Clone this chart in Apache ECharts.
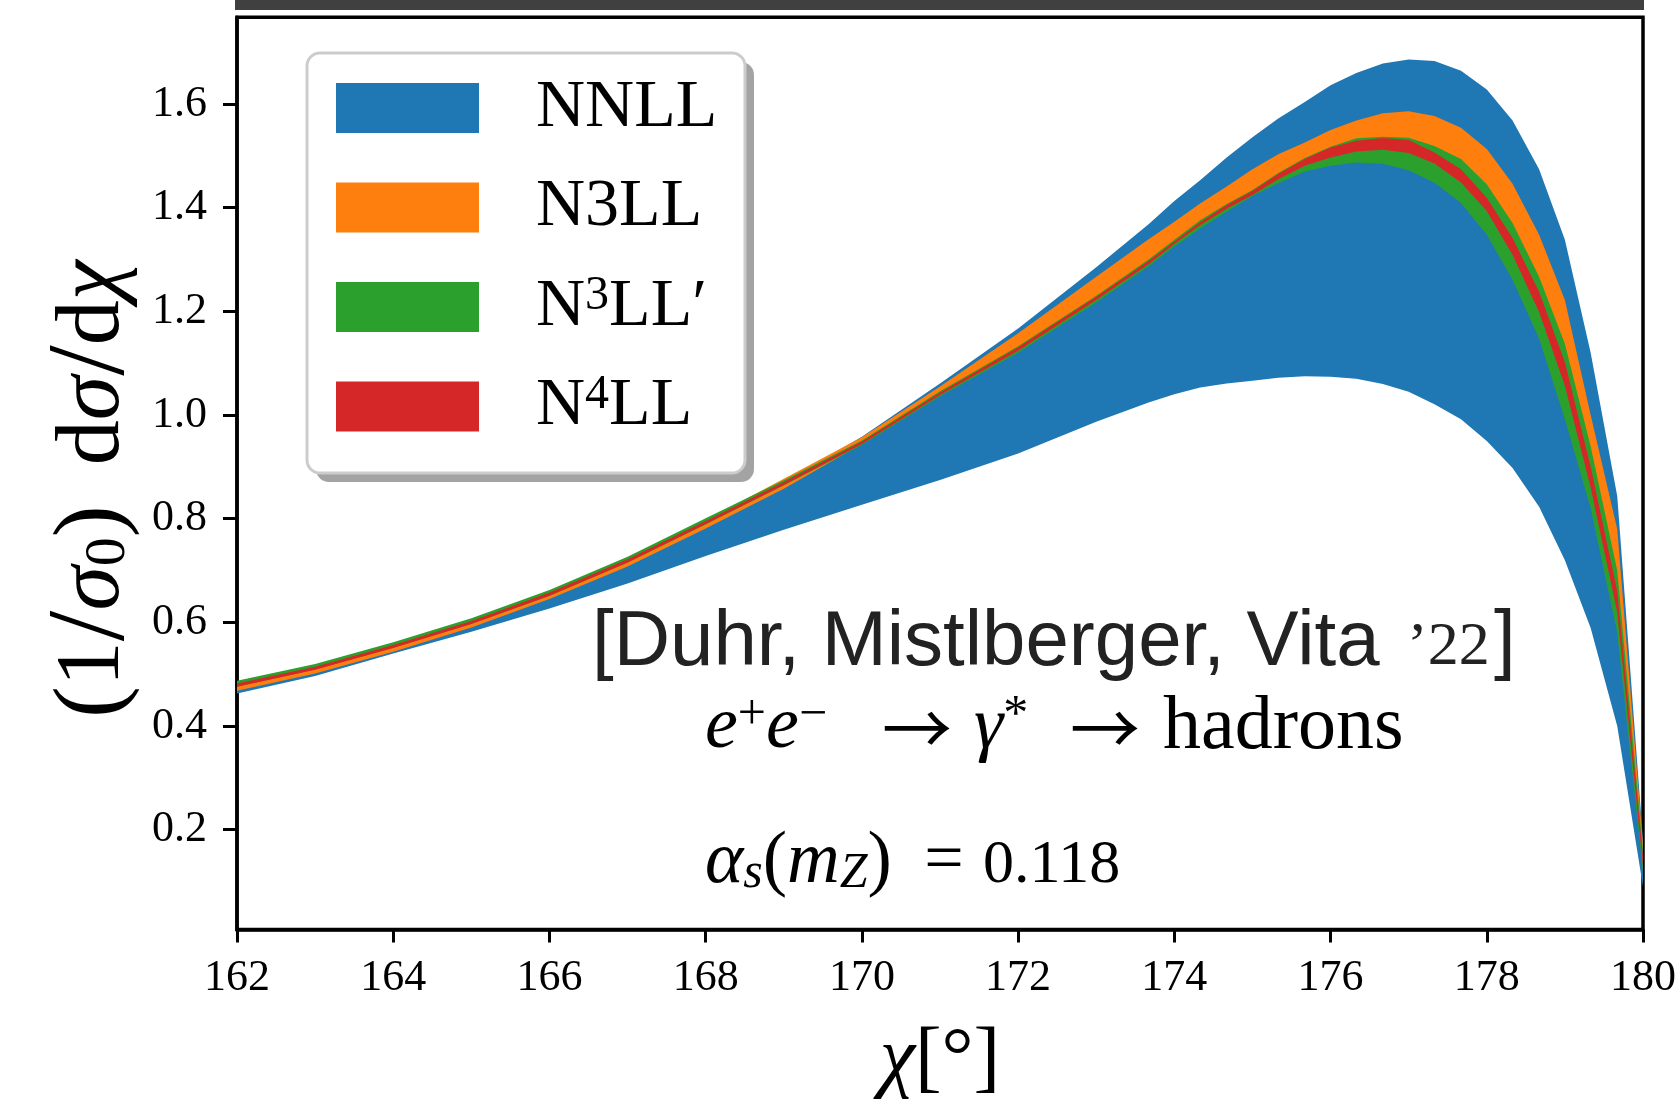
<!DOCTYPE html>
<html>
<head>
<meta charset="utf-8">
<script src="https://cdn.jsdelivr.net/npm/echarts@6/dist/echarts.min.js"></script>
<style>
  html, body { margin: 0; padding: 0; background: #fff; }
  #chart { width: 1676px; height: 1104px; }
</style>
</head>
<body>
<div id="chart"></div>
<script>
// Scattering angle grid (degrees)
const chi = [162, 163, 164, 165, 166, 167, 168, 169, 170, 171, 172, 173, 173.67, 174, 174.33, 174.67,
             175, 175.33, 175.67, 176, 176.33, 176.67, 177, 177.33, 177.67, 178, 178.33, 178.67,
             179, 179.33, 179.67, 180];

// Scale-variation envelopes: lower / upper edge of each band
const nnllLo = [0.463, 0.4965, 0.540, 0.582, 0.627, 0.675, 0.728, 0.7785, 0.827, 0.8746, 0.926, 0.987, 1.024, 1.040, 1.053, 1.061,
                1.066, 1.072, 1.075, 1.074, 1.070, 1.060, 1.045, 1.021, 0.992, 0.950, 0.898, 0.823,
                0.720, 0.589, 0.400, 0.090];
const nnllHi = [0.479, 0.512, 0.554, 0.601, 0.656, 0.720, 0.793, 0.872, 0.958, 1.061, 1.167, 1.285, 1.368, 1.413, 1.453, 1.497,
                1.536, 1.572, 1.604, 1.636, 1.660, 1.678, 1.686, 1.683, 1.664, 1.628, 1.568, 1.474,
                1.338, 1.120, 0.844, 0.180];

const n3llLo = [0.468, 0.5015, 0.5435, 0.590, 0.645, 0.708, 0.781, 0.858, 0.944, 1.038, 1.122, 1.220, 1.292, 1.328, 1.365, 1.395,
                1.425, 1.452, 1.475, 1.490, 1.500, 1.500, 1.490, 1.468, 1.430, 1.372, 1.285, 1.175,
                1.030, 0.880, 0.640, 0.130];
const n3llHi = [0.482, 0.515, 0.557, 0.604, 0.659, 0.723, 0.797, 0.877, 0.957, 1.055, 1.158, 1.267, 1.339, 1.373, 1.408, 1.441,
                1.474, 1.503, 1.526, 1.550, 1.568, 1.582, 1.586, 1.577, 1.554, 1.513, 1.446, 1.348,
                1.222, 1.000, 0.780, 0.170];

const n3llpLo = [0.476, 0.509, 0.551, 0.597, 0.651, 0.715, 0.789, 0.864, 0.942, 1.036, 1.120, 1.217, 1.287, 1.325, 1.360, 1.392,
                 1.4225, 1.447, 1.470, 1.481, 1.487, 1.485, 1.472, 1.448, 1.409, 1.348, 1.261, 1.147,
                 0.992, 0.820, 0.580, 0.120];
const n3llpHi = [0.4875, 0.5196, 0.5615, 0.6078, 0.6624, 0.7267, 0.8007, 0.874, 0.951, 1.0457, 1.1326, 1.2303, 1.300, 1.338, 1.376, 1.407,
                 1.434, 1.467, 1.496, 1.5176, 1.5338, 1.5371, 1.535, 1.519, 1.4937, 1.445, 1.3706, 1.267,
                 1.1376, 0.940, 0.700, 0.160];

const n4llLo = [0.476, 0.5086, 0.5505, 0.5968, 0.6514, 0.7157, 0.7897, 0.865, 0.944, 1.0386, 1.124, 1.222, 1.291, 1.330, 1.366, 1.398,
                1.4244, 1.455, 1.4808, 1.497, 1.5086, 1.5118, 1.5053, 1.4852, 1.4484, 1.3934, 1.309, 1.199,
                1.0567, 0.860, 0.620, 0.130];
const n4llHi = [0.482, 0.5146, 0.5565, 0.6028, 0.6574, 0.7217, 0.7957, 0.871, 0.949, 1.0437, 1.1306, 1.2283, 1.297, 1.335, 1.372, 1.405,
                1.432, 1.465, 1.4937, 1.5163, 1.5292, 1.5344, 1.5305, 1.5066, 1.474, 1.419, 1.3415, 1.2379,
                1.102, 0.900, 0.660, 0.150];

// Tick values
const yTickValues = [0.2, 0.4, 0.6, 0.8, 1.0, 1.2, 1.4, 1.6];
const xTickStep = 2;

// Bands, drawn in this order (later bands on top)
const bands = [
  { name: 'NNLL',  label: '{m|NNLL}',                   lo: nnllLo,  hi: nnllHi,  color: '#1f77b4' },
  { name: 'N3LL',  label: '{m|N3LL}',                   lo: n3llLo,  hi: n3llHi,  color: '#ff7f0e' },
  { name: "N3LL'", label: '{m|N}{sup|3}{m|LL\u2032}',   lo: n3llpLo, hi: n3llpHi, color: '#2ca02c' },
  { name: 'N4LL',  label: '{m|N}{sup|4}{m|LL}',         lo: n4llLo,  hi: n4llHi,  color: '#d62728' }
];

const SERIF = "'Liberation Serif', 'DejaVu Serif', serif";
const SANS = "'Liberation Sans', Arial, sans-serif";
const ARROW = "'Noto Sans CJK SC', 'DejaVu Sans', sans-serif";

// One filled polygon per band: upper edge left-to-right, lower edge back
function bandSeries(b) {
  return {
    type: 'custom',
    name: b.name,
    coordinateSystem: 'cartesian2d',
    data: chi.map((x, i) => [x, b.lo[i], b.hi[i]]),
    encode: { x: 0, y: [1, 2] },
    itemStyle: { color: b.color },
    silent: true,
    clip: true,
    renderItem: function (params, api) {
      if (params.dataIndex !== 0) return null;
      const upper = chi.map((x, i) => api.coord([x, b.hi[i]]));
      const lower = chi.map((x, i) => api.coord([x, b.lo[i]])).reverse();
      return {
        type: 'polygon',
        shape: { points: upper.concat(lower) },
        style: { fill: b.color, stroke: null }
      };
    }
  };
}

const labelMap = {};
bands.forEach(b => { labelMap[b.name] = b.label; });

const txt = (fill, extra) => Object.assign({ fill: fill, color: fill }, extra);

const chart = echarts.init(document.getElementById('chart'), null, { renderer: 'canvas' });

chart.setOption({
  animation: false,
  backgroundColor: '#fff',
  grid: {
    left: 237, right: 33, top: 17.3, bottom: 174.5,
    containLabel: false, outerBoundsMode: 'none',
    show: true, borderColor: '#000', borderWidth: 3.5, backgroundColor: 'transparent'
  },
  xAxis: {
    type: 'value',
    min: 162, max: 180, interval: xTickStep,
    name: '{i|\u03c7}{n|[\u00b0]}',
    nameLocation: 'middle',
    nameGap: 91,
    nameMoveOverlap: false,
    nameTextStyle: {
      rich: {
        i: { fontFamily: SERIF, fontStyle: 'italic', fontSize: 80, lineHeight: 80, color: '#000' },
        n: { fontFamily: SERIF, fontSize: 80, lineHeight: 80, color: '#000' }
      }
    },
    axisLine: { show: true, lineStyle: { color: '#000', width: 3.5 } },
    axisTick: { show: true, length: 13, lineStyle: { color: '#000', width: 3 } },
    axisLabel: { fontFamily: SERIF, fontSize: 44, color: '#000', margin: 27 },
    splitLine: { show: false }
  },
  yAxis: {
    type: 'value',
    min: 0.0075, max: 1.7673,
    name: '{p|(}{n|1}{sl|/}{i|\u03c3}{s|0}{p|)}{sp| }{n|d}{i|\u03c3}{sl|/}{n|d}{i|\u03c7}',
    nameLocation: 'middle',
    nameRotate: 90,
    nameGap: 99,
    nameMoveOverlap: false,
    nameTextStyle: {
      padding: [0, 32, 0, 0],
      rich: {
        p: { fontFamily: SERIF, fontSize: 96, lineHeight: 88, color: '#000' },
        n: { fontFamily: SERIF, fontSize: 90, lineHeight: 88, color: '#000' },
        sl: { fontFamily: SERIF, fontSize: 110, lineHeight: 88, color: '#000' },
        sp: { fontFamily: SERIF, fontSize: 90, lineHeight: 88, width: 40, color: '#000' },
        i: { fontFamily: SERIF, fontStyle: 'italic', fontSize: 90, lineHeight: 88, color: '#000' },
        s: { fontFamily: SERIF, fontSize: 58, lineHeight: 44, verticalAlign: 'bottom', color: '#000' }
      }
    },
    axisLine: { show: true, lineStyle: { color: '#000', width: 3.5 } },
    axisTick: { show: true, length: 14, lineStyle: { color: '#000', width: 3 }, customValues: yTickValues },
    axisLabel: {
      fontFamily: SERIF, fontSize: 44, color: '#000', margin: 30,
      customValues: yTickValues,
      formatter: v => v.toFixed(1)
    },
    splitLine: { show: false }
  },
  legend: {
    data: bands.map(b => ({ name: b.name, icon: 'rect', itemStyle: { color: b.color } })),
    orient: 'vertical',
    left: 336, top: 73,
    padding: 0,
    itemWidth: 143, itemHeight: 50, itemGap: 29.5,
    selectedMode: false,
    z: 6,
    formatter: name => labelMap[name],
    textStyle: {
      fontFamily: SERIF, fontSize: 68, lineHeight: 70, color: '#000',
      padding: [0, 0, 0, 52],
      rich: {
        m: { fontFamily: SERIF, fontSize: 68, lineHeight: 70, color: '#000' },
        sup: { fontFamily: SERIF, fontSize: 48, lineHeight: 32, verticalAlign: 'top', color: '#000' }
      }
    }
  },
  graphic: [
    // dark strip along the top edge
    { type: 'rect', shape: { x: 235, y: 0, width: 1409, height: 10 }, style: { fill: '#404040' }, z: 10 },
    // legend frame with drop shadow
    { type: 'rect', shape: { x: 316, y: 62, width: 438, height: 420, r: 13 }, style: { fill: '#a3a3a3' }, z: 4 },
    { type: 'rect', shape: { x: 307, y: 53, width: 438, height: 420, r: 13 },
      style: { fill: '#fff', stroke: '#cccccc', lineWidth: 3 }, z: 5 },

    // citation line (baseline ~669)
    { type: 'text', x: 592, y: 643, z: 7,
      style: { text: '[Duhr, Mistlberger, Vita', font: '78px ' + SANS, fill: '#222',
               align: 'left', verticalAlign: 'middle' } },
    { type: 'text', x: 1407, y: 648, z: 7,
      style: { text: '\u201922', font: '62px ' + SERIF, fill: '#222', align: 'left', verticalAlign: 'middle' } },
    { type: 'text', x: 1494, y: 643, z: 7,
      style: { text: ']', font: '78px ' + SANS, fill: '#222', align: 'left', verticalAlign: 'middle' } },

    // process line (baseline ~753)
    { type: 'text', x: 705, y: 728, z: 7,
      style: {
        text: '{i|e}{sp|+}{i|e}{sp|\u2212}', align: 'left', verticalAlign: 'middle',
        rich: {
          i: txt('#000', { fontFamily: SERIF, fontStyle: 'italic', fontSize: 74, lineHeight: 74 }),
          sp: txt('#000', { fontFamily: SERIF, fontSize: 50, lineHeight: 30, verticalAlign: 'top' })
        }
      }
    },
    { type: 'text', x: 917, y: 728, z: 7,
      style: { text: '\u2192', font: '70px ' + ARROW, fill: '#000', align: 'center', verticalAlign: 'middle' } },
    { type: 'text', x: 974, y: 728, z: 7,
      style: {
        text: '{i|\u03b3}{sp|*}', align: 'left', verticalAlign: 'middle',
        rich: {
          i: txt('#000', { fontFamily: SERIF, fontStyle: 'italic', fontSize: 74, lineHeight: 74 }),
          sp: txt('#000', { fontFamily: SERIF, fontSize: 50, lineHeight: 30, verticalAlign: 'top' })
        }
      }
    },
    { type: 'text', x: 1105, y: 728, z: 7,
      style: { text: '\u2192', font: '70px ' + ARROW, fill: '#000', align: 'center', verticalAlign: 'middle' } },
    { type: 'text', x: 1163, y: 728, z: 7,
      style: { text: 'hadrons', font: '76px ' + SERIF, fill: '#000', align: 'left', verticalAlign: 'middle' } },

    // coupling line (baseline ~882)
    { type: 'text', x: 705, y: 863, z: 7,
      style: {
        text: '{i|\u03b1}{sb|s}{n|(}{i|m}{sb|Z}{n|)}', align: 'left', verticalAlign: 'middle',
        rich: {
          n: txt('#000', { fontFamily: SERIF, fontSize: 73, lineHeight: 72 }),
          i: txt('#000', { fontFamily: SERIF, fontStyle: 'italic', fontSize: 73, lineHeight: 72 }),
          sb: txt('#000', { fontFamily: SERIF, fontStyle: 'italic', fontSize: 50, lineHeight: 32, verticalAlign: 'bottom' })
        }
      }
    },
    { type: 'text', x: 944, y: 863, z: 7,
      style: { text: '=', font: '70px ' + SERIF, fill: '#000', align: 'center', verticalAlign: 'middle' } },
    { type: 'text', x: 983, y: 866, z: 7,
      style: { text: '0.118', font: '62px ' + SERIF, fill: '#000', align: 'left', verticalAlign: 'middle' } }
  ],
  series: bands.map(bandSeries)
});
</script>
</body>
</html>
